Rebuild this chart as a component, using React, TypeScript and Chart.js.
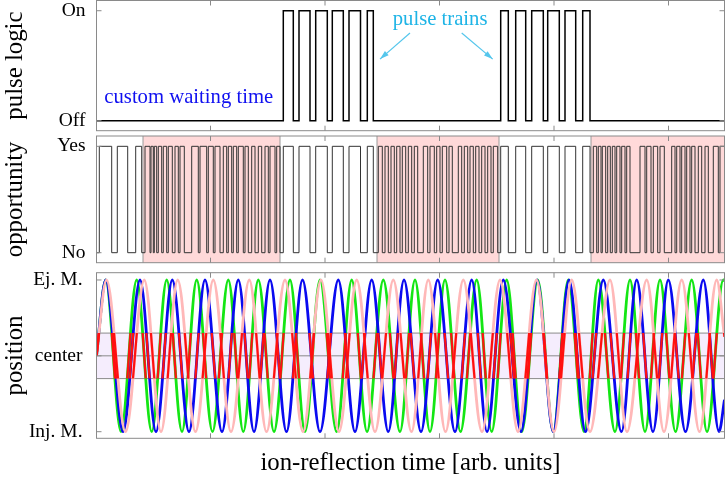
import { useEffect, useRef } from "react";
import { Chart, registerables } from "chart.js";

Chart.register(...registerables);

// ---------- data (time in arb. units) ----------
const T_MAX = 628;
const X_TICKS = [114, 228.5, 343, 457.5, 572];

// pulse logic: times at which the signal toggles (starts Off)
const PULSE_EDGES = [
  186.8, 196.8, 202.5, 213.5, 219.2, 230.8, 235.8, 246.8, 252.5, 264, 270.8, 276.8,
  404.2, 411.8, 419.2, 429.2, 435.2, 446.8, 451.2, 462.8, 468.5, 479.2, 486.2, 493.5,
];

// opportunity: toggle times (starts No)
const OPP_EDGES = [
  2.8, 15.2, 20.8, 31.2, 39.2, 45.2,
  48.5, 53.5, 54.5, 56.8, 57.8, 60.2, 61.8, 65.2, 66.8, 70.2, 71.8, 75.8, 78.5, 81.8, 83.5, 87.8,
  95.2, 101.8, 103.5, 110.2, 111.8, 116.8, 118.5, 123.5, 126.8, 130.2, 131.8, 135.2, 136.8, 140.2,
  141.8, 146.8, 148.5, 151.8, 155.2, 158.5, 161.8, 165.2, 168.5, 171.8, 173.5, 178.5, 180.2, 183.5,
  186.8, 196.8, 202.5, 213.5, 219.2, 230.8, 235.8, 246.8, 252.5, 264, 270.8, 276.8,
  281.8, 285.8, 288.5, 291.8, 294.5, 297.8, 300.2, 303.5, 305.8, 309.2, 311.8, 315.2, 317.8, 321.2,
  326.8, 331.2, 333.5, 337.8, 340.2, 343.5, 345.8, 350.2, 352.5, 355.8, 361.8, 365.2, 367.8, 371.2,
  373.5, 376.8, 379.2, 382.5, 385.2, 388.5, 391.2, 394.5, 396.8, 401.2,
  404.2, 411.8, 419.2, 429.2, 435.2, 446.8, 451.2, 462.8, 468.5, 479.2, 486.2, 493.5,
  496.8, 500.2, 501.8, 504.5, 505.8, 509.2, 511.2, 513.8, 515.8, 518.5, 520.2, 523.5, 525.2, 528.5,
  530.2, 533.5, 543.5, 548.5, 550.2, 554.5, 556.8, 561.2, 563.5, 567.8, 575.2, 578.5, 580.2, 583.5,
  585.2, 588.5, 590.2, 593.5, 595.2, 598.5, 601.8, 605.2, 608.5, 611.8, 616.8, 621.8, 623.5,
];

// shaded (dense) windows in opportunity panel
const OPP_WINDOWS: [number, number][] = [
  [46.5, 183.5],
  [280.5, 402.5],
  [494.5, 628],
];

const LOGIC_TICKS = [0, 1];
const LOGIC_LABELS = ["Off", "On"];
const OPP_TICKS = [0, 1];
const OPP_LABELS = ["No", "Yes"];
const POS_TICKS = [-1, 0, 1];
const POS_LABELS = ["Inj. M.", "center", "Ej. M."];
const BAND = 0.3;

// ion trajectories: times of alternating extrema (first is Ej. M. peak, then Inj. M. ...)
const GREEN_EXTREMA = [
  9.2, 24.5, 40.2, 55.2, 70.2, 85.5, 100.2, 116, 131.8, 146.8, 161.8, 177.5, 193.5, 208.5, 223.5,
  240.2, 255.2, 270.5, 286.8, 303.5, 318.5, 333.5, 348.5, 364, 380.2, 395.2, 410.2, 425.2, 441.2,
  456.8, 471.8, 487.5, 501.8, 518.5, 533.5, 548.5, 563.5, 579, 595.2, 610.5, 626.8,
];
const GREEN_END = 0.99;
const BLUE_EXTREMA = [
  9.2, 26.5, 43.5, 59.5, 75.8, 92.5, 108.5, 125.5, 141.8, 157.5, 173.5, 190, 206, 223.5, 241.8,
  258.5, 275.2, 291.8, 307.5, 324.5, 341.2, 358.5, 375.2, 390.5, 406.8, 424.5, 440.5, 456.8, 472.5,
  489, 506.8, 525, 540.2, 556.5, 571.8, 589, 606.8, 622.5,
];
const BLUE_END = -0.58;
const PINK_EXTREMA = [
  10, 29, 47.8, 64.5, 81.2, 99, 116.8, 134.5, 152.8, 170, 188.5, 206.5, 224.5, 242.5, 260.2, 278.5,
  296.8, 315, 331.8, 349, 366.8, 385.5, 403.5, 421.5, 440, 457.5, 475.2, 493.5, 513.5, 530.5, 550.2,
  567.5, 585.2, 603, 620.2,
];
const PINK_END = 0.25;

// ---------- styling ----------
const FONT = '"Liberation Serif", "DejaVu Serif", "Times New Roman", serif';
const FRAME = "#8a8a8a";
const PLOT_LEFT = 96.5;
const W = 726;

function toggleSeries(edges: number[]) {
  const pts = [{ x: 0, y: 0 }];
  let lv = 0;
  for (const e of edges) {
    lv = 1 - lv;
    pts.push({ x: e, y: lv });
  }
  pts.push({ x: T_MAX, y: lv });
  return pts;
}

function waveSeries(ext: number[], endVal: number) {
  const pts = [{ x: 0, y: 0 }];
  ext.forEach((t, i) => pts.push({ x: t, y: i % 2 === 0 ? 1 : -1 }));
  pts.push({ x: T_MAX, y: endVal });
  return pts;
}

const framePlugin = {
  id: "frame",
  afterDraw(chart: any) {
    const { ctx, chartArea, scales } = chart;
    const { left, right, top, bottom } = chartArea;
    ctx.save();
    ctx.strokeStyle = FRAME;
    ctx.lineWidth = 1;
    ctx.beginPath();
    for (const v of X_TICKS) {
      const px = scales.x.getPixelForValue(v);
      ctx.moveTo(px, top);
      ctx.lineTo(px, top + 5);
      ctx.moveTo(px, bottom);
      ctx.lineTo(px, bottom - 5);
    }
    for (const t of scales.y.ticks) {
      const py = scales.y.getPixelForValue(t.value);
      ctx.moveTo(left, py);
      ctx.lineTo(left + 5, py);
      ctx.moveTo(right, py);
      ctx.lineTo(right - 5, py);
    }
    ctx.stroke();
    ctx.strokeRect(left, top, right - left, bottom - top);
    ctx.restore();
  },
};

const windowsPlugin = {
  id: "windows",
  beforeDatasetsDraw(chart: any) {
    const { ctx, chartArea, scales } = chart;
    ctx.save();
    for (const [a, b] of OPP_WINDOWS) {
      const x0 = scales.x.getPixelForValue(a);
      const x1 = Math.min(scales.x.getPixelForValue(b), chartArea.right);
      ctx.fillStyle = "#ffd9d9";
      ctx.fillRect(x0, chartArea.top, x1 - x0, chartArea.bottom - chartArea.top);
      ctx.strokeStyle = "#9a9a9a";
      ctx.lineWidth = 1;
      ctx.beginPath();
      ctx.moveTo(x0, chartArea.top);
      ctx.lineTo(x0, chartArea.bottom);
      ctx.moveTo(x1, chartArea.top);
      ctx.lineTo(x1, chartArea.bottom);
      ctx.stroke();
    }
    ctx.restore();
  },
};

const bandPlugin = {
  id: "band",
  beforeDatasetsDraw(chart: any) {
    const { ctx, chartArea, scales } = chart;
    const yt = scales.y.getPixelForValue(BAND);
    const yb = scales.y.getPixelForValue(-BAND);
    const yc = scales.y.getPixelForValue(0);
    ctx.save();
    ctx.fillStyle = "#f5edfd";
    ctx.fillRect(chartArea.left, yt, chartArea.right - chartArea.left, yb - yt);
    ctx.strokeStyle = "#8a8a8a";
    ctx.lineWidth = 1;
    ctx.beginPath();
    for (const y of [yt, yc, yb]) {
      ctx.moveTo(chartArea.left, y);
      ctx.lineTo(chartArea.right, y);
    }
    ctx.stroke();
    ctx.restore();
  },
  afterDatasetsDraw(chart: any) {
    const { ctx, chartArea, scales } = chart;
    const yt = scales.y.getPixelForValue(BAND);
    const yb = scales.y.getPixelForValue(-BAND);
    ctx.save();
    ctx.beginPath();
    ctx.rect(chartArea.left, yt, chartArea.right - chartArea.left, yb - yt);
    ctx.clip();
    chart.data.datasets.forEach((_: any, i: number) => {
      const line: any = chart.getDatasetMeta(i).dataset;
      if (!line) return;
      ctx.beginPath();
      line.path(ctx);
      ctx.strokeStyle = "#ff1010";
      ctx.lineWidth = 2.2;
      ctx.stroke();
    });
    ctx.restore();
  },
};

const notesPlugin = {
  id: "notes",
  afterDatasetsDraw(chart: any) {
    const { ctx, scales } = chart;
    const X = (v: number) => scales.x.getPixelForValue(v);
    const Y = (v: number) => scales.y.getPixelForValue(v);
    ctx.save();
    ctx.font = `20.7px ${FONT}`;
    ctx.textBaseline = "alphabetic";
    ctx.textAlign = "left";
    ctx.fillStyle = "#1010f0";
    ctx.fillText("custom waiting time", X(7.8), Y(0.164));
    ctx.fillStyle = "#1eb4e6";
    ctx.fillText("pulse trains", X(296.2), Y(0.872));
    const arrow = (x0: number, y0: number, x1: number, y1: number) => {
      const ax = X(x0), ay = Y(y0), bx = X(x1), by = Y(y1);
      const ang = Math.atan2(by - ay, bx - ax);
      ctx.strokeStyle = "#55c6ec";
      ctx.fillStyle = "#55c6ec";
      ctx.lineWidth = 1.2;
      ctx.beginPath();
      ctx.moveTo(ax, ay);
      ctx.lineTo(bx, by);
      ctx.stroke();
      const L = 9, H = 2.8;
      ctx.beginPath();
      ctx.moveTo(bx, by);
      ctx.lineTo(bx - L * Math.cos(ang) + H * Math.sin(ang), by - L * Math.sin(ang) - H * Math.cos(ang));
      ctx.lineTo(bx - L * Math.cos(ang) - H * Math.sin(ang), by - L * Math.sin(ang) + H * Math.cos(ang));
      ctx.closePath();
      ctx.fill();
    };
    arrow(313.5, 0.797, 283.5, 0.56);
    arrow(365.2, 0.797, 396.2, 0.56);
    ctx.restore();
  },
};

type PanelCfg = {
  yMin: number;
  yMax: number;
  ticks: number[];
  labels: string[];
  title: string;
  labelPad: number;
  padding: { top: number; bottom: number; left: number; right: number };
  xTitle?: string;
  xHeight?: number;
};

function makeOptions(cfg: PanelCfg): any {
  return {
    responsive: false,
    maintainAspectRatio: false,
    animation: false,
    events: [],
    layout: { padding: cfg.padding },
    plugins: { legend: { display: false }, tooltip: { enabled: false } },
    elements: { point: { radius: 0 } },
    scales: {
      x: {
        type: "linear",
        min: 0,
        max: T_MAX,
        display: !!cfg.xTitle,
        grid: { display: false, drawTicks: false },
        border: { display: false },
        ticks: { display: false },
        title: cfg.xTitle
          ? {
              display: true,
              text: cfg.xTitle,
              color: "#000",
              font: { family: FONT, size: 24.8, lineHeight: 1 },
              padding: { top: 0, bottom: 1 },
            }
          : { display: false },
        afterFit: (s: any) => {
          if (cfg.xTitle) s.height = cfg.xHeight;
          s.paddingLeft = 0;
          s.paddingRight = 0;
        },
      },
      y: {
        type: "linear",
        min: cfg.yMin,
        max: cfg.yMax,
        afterBuildTicks: (s: any) => {
          s.ticks = cfg.ticks.map((v) => ({ value: v }));
        },
        afterFit: (s: any) => {
          s.width = PLOT_LEFT;
          s.paddingTop = 0;
          s.paddingBottom = 0;
        },
        grid: { display: false, drawTicks: false },
        border: { display: false },
        ticks: {
          padding: cfg.labelPad,
          color: "#000",
          font: { family: FONT, size: 19.5 },
          callback: (v: number) => {
            const i = cfg.ticks.indexOf(v);
            return i >= 0 ? cfg.labels[i] : "";
          },
        },
        title: {
          display: true,
          text: cfg.title,
          color: "#000",
          font: { family: FONT, size: 24.8, lineHeight: 1 },
          padding: { top: 3, bottom: 0 },
        },
      },
    },
  };
}

export default function App() {
  const c1 = useRef<HTMLCanvasElement>(null);
  const c2 = useRef<HTMLCanvasElement>(null);
  const c3 = useRef<HTMLCanvasElement>(null);

  useEffect(() => {
    const charts: Chart[] = [];
    charts.push(
      new Chart(c1.current!, {
        type: "line",
        data: {
          datasets: [
            {
              data: toggleSeries(PULSE_EDGES),
              borderColor: "#000",
              borderWidth: 1.5,
              stepped: true,
              pointRadius: 0,
            } as any,
          ],
        },
        options: makeOptions({
          yMin: -0.091,
          yMax: 1.093,
          ticks: LOGIC_TICKS,
          labels: LOGIC_LABELS,
          title: "pulse logic",
          labelPad: 11,
          padding: { top: 0.5, bottom: 2.3, left: 0, right: 1.5 },
        }),
        plugins: [framePlugin, notesPlugin],
      })
    );
    charts.push(
      new Chart(c2.current!, {
        type: "line",
        data: {
          datasets: [
            {
              data: toggleSeries(OPP_EDGES),
              borderColor: "#333",
              borderWidth: 1,
              stepped: true,
              pointRadius: 0,
            } as any,
          ],
        },
        options: makeOptions({
          yMin: -0.094,
          yMax: 1.097,
          ticks: OPP_TICKS,
          labels: OPP_LABELS,
          title: "opportunity",
          labelPad: 11,
          padding: { top: 3, bottom: 3.3, left: 0, right: 1.5 },
        }),
        plugins: [windowsPlugin, framePlugin],
      })
    );
    const waveDs = (data: any, color: string) =>
      ({
        data,
        borderColor: color,
        borderWidth: 2.8,
        cubicInterpolationMode: "monotone",
        pointRadius: 0,
      } as any);
    charts.push(
      new Chart(c3.current!, {
        type: "line",
        data: {
          datasets: [
            waveDs(waveSeries(PINK_EXTREMA, PINK_END), "#ffb8b8"),
            waveDs(waveSeries(BLUE_EXTREMA, BLUE_END), "#0a0af0"),
            waveDs(waveSeries(GREEN_EXTREMA, GREEN_END), "#14e614"),
          ],
        },
        options: makeOptions({
          yMin: -1.087,
          yMax: 1.096,
          ticks: POS_TICKS,
          labels: POS_LABELS,
          title: "position",
          labelPad: 14,
          padding: { top: 6.7, bottom: 0, left: 0, right: 1.5 },
          xTitle: "ion-reflection time [arb. units]",
          xHeight: 38.7,
        }),
        plugins: [bandPlugin, framePlugin],
      })
    );
    return () => charts.forEach((c) => c.destroy());
  }, []);

  const cs = (top: number, h: number): any => ({
    position: "absolute",
    left: 0,
    top,
    width: W,
    height: h,
  });

  return (
    <div style={{ position: "fixed", left: 0, top: 0, width: W, height: 477, background: "#fff" }}>
      <canvas ref={c1} width={W} height={133} style={cs(0, 133)} />
      <canvas ref={c2} width={W} height={133} style={cs(133, 133)} />
      <canvas ref={c3} width={W} height={211} style={cs(266, 211)} />
    </div>
  );
}
